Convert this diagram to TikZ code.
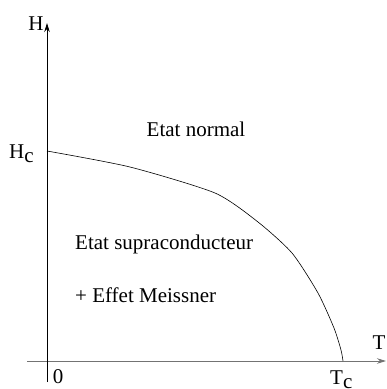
\documentclass[tikz,border=0pt]{standalone}
\usepackage{fontspec}
\setmainfont{Liberation Serif}
\usetikzlibrary{arrows.meta}
\begin{document}
\begin{tikzpicture}[x=1pt,y=-1pt,
  lbl/.style={font=\fontsize{21}{24}\selectfont, inner sep=0pt},
  axis/.style={line width=0.9pt, -{Stealth[length=9pt,width=5.5pt]}}]
\useasboundingbox (0,0) rectangle (387,389);
\coordinate (ybot) at (47,382);
\coordinate (ytop) at (47,23);
\coordinate (xl) at (27,361);
\coordinate (xr) at (386,361);
\draw[axis, black!55] (xl) -- (xr);
\draw[axis] (ybot) -- (ytop);
\draw[line width=0.6pt] plot[smooth, tension=0.4] coordinates
  {(47,151) (130,167) (215,193) (258,222) (292,253) (318,293) (334,328) (341,350) (343,361)};
\node[lbl] (H) at (36,24) {H};
\node[lbl, anchor=base west] (Hc) at (9,158) {H\raisebox{-0.5ex}{c}};
\node[lbl] (T) at (379,343) {T};
\node[lbl, anchor=base west] (Tc) at (330,384) {T\raisebox{-0.5ex}{c}};
\node[lbl] (zero) at (58,377) {0};
\node[lbl] (normal) at (196,129) {Etat normal};
\node[lbl, anchor=base west] (supra) at (75,249) {Etat supraconducteur};
\node[lbl, anchor=base west] (meiss) at (75,302) {+ Effet Meissner};
\end{tikzpicture}
\end{document}
